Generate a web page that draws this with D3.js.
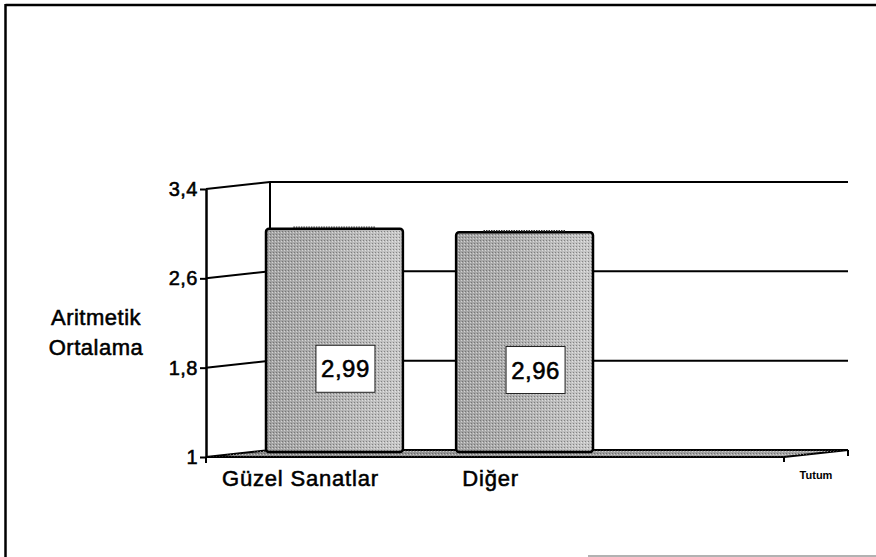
<!DOCTYPE html>
<html><head><meta charset="utf-8">
<script src="https://cdn.jsdelivr.net/npm/d3@7"></script>
<style>
html,body{margin:0;padding:0;background:#fff;}
svg{display:block;font-family:"Liberation Sans",Arial,Helvetica,sans-serif;}
.t{stroke:#000;stroke-width:0.55px;paint-order:stroke;}
</style></head>
<body>
<svg id="chart" width="876" height="557"></svg>
<script>
const categories = ["Güzel Sanatlar", "Diğer"];
const values = [2.99, 2.96];
const yTicks = [1, 1.8, 2.6, 3.4];
const yTickLabels = ["1", "1,8", "2,6", "3,4"];
const yTitle = ["Aritmetik", "Ortalama"];
const seriesName = "Tutum";

const svg = d3.select("#chart");
const W = 876, H = 557;

// depth offset of the 3D back wall
const DX = 64, DY = -7;
const frontLeft = 206, frontRight = 784;

const y = d3.scaleLinear().domain([1, 3.4]).range([457, 189]);
const x = d3.scaleBand().domain(categories).range([266, 593]).paddingInner(0.28).paddingOuter(0);

const defs = svg.append("defs");
const grad = defs.append("linearGradient").attr("id", "barGrad").attr("x1", 0).attr("x2", 1).attr("y1", 0).attr("y2", 0);
grad.append("stop").attr("offset", "0%").attr("stop-color", "#a2a2a2");
grad.append("stop").attr("offset", "45%").attr("stop-color", "#b0b0b0");
grad.append("stop").attr("offset", "100%").attr("stop-color", "#c8c8c8");
const fgrad = defs.append("linearGradient").attr("id", "floorGrad").attr("x1", 0).attr("x2", 1).attr("y1", 0).attr("y2", 0);
fgrad.append("stop").attr("offset", "0%").attr("stop-color", "#8a8a8a");
fgrad.append("stop").attr("offset", "100%").attr("stop-color", "#a8a8a8");
const pat = defs.append("pattern").attr("id", "dots").attr("width", 3).attr("height", 3).attr("patternUnits", "userSpaceOnUse");
pat.append("rect").attr("x", 0).attr("y", 0).attr("width", 1).attr("height", 1).attr("fill", "#444").attr("opacity", 0.5);
pat.append("rect").attr("x", 2).attr("y", 1).attr("width", 1).attr("height", 1).attr("fill", "#fff").attr("opacity", 0.5);

// outer frame
svg.append("line").attr("x1", 5.5).attr("y1", 5).attr("x2", W).attr("y2", 5).attr("stroke", "#000").attr("stroke-width", 2.5);
svg.append("line").attr("x1", 5.5).attr("y1", 4).attr("x2", 5.5).attr("y2", H).attr("stroke", "#000").attr("stroke-width", 2.5);
svg.append("line").attr("x1", 588).attr("y1", 556).attr("x2", W).attr("y2", 556).attr("stroke", "#999").attr("stroke-width", 1.5);

// gridlines (front wedge + back horizontal), skipping the floor value
const grid = svg.append("g").attr("stroke", "#000").attr("stroke-width", 2).attr("fill", "none");
yTicks.filter(t => t > 1).forEach(t => {
  grid.append("path").attr("d",
    `M${frontLeft},${y(t)}L${frontLeft + DX},${y(t) + DY}L${frontRight + DX},${y(t) + DY}`);
});
// back wall vertical
grid.append("line").attr("x1", frontLeft + DX).attr("x2", frontLeft + DX)
  .attr("y1", y(3.4) + DY).attr("y2", y(1) + DY);

// floor slab
const floorD = `M${frontLeft},${y(1)}L${frontLeft + DX},${y(1) + DY}L${frontRight + DX},${y(1) + DY}L${frontRight},${y(1)}Z`;
svg.append("path").attr("d", floorD).attr("fill", "url(#floorGrad)").attr("stroke", "#000").attr("stroke-width", 2);
svg.append("path").attr("d", floorD).attr("fill", "url(#dots)");
svg.append("line").attr("x1", frontRight).attr("x2", frontRight).attr("y1", y(1)).attr("y2", y(1) + 5).attr("stroke", "#000").attr("stroke-width", 2);
svg.append("line").attr("x1", frontRight + DX).attr("x2", frontRight + DX).attr("y1", y(1) + DY).attr("y2", y(1) + DY + 6).attr("stroke", "#000").attr("stroke-width", 2);

// bars (sit near back plane)
const BDY = -6;
const bars = svg.append("g");
categories.forEach((c, i) => {
  const v = values[i];
  const x0 = x(c), bw = x.bandwidth();
  const yt = y(v) + BDY, yb = y(1) + BDY + 1;
  bars.append("rect").attr("x", x0).attr("y", yt).attr("width", bw).attr("height", yb - yt)
    .attr("rx", 3).attr("fill", "url(#barGrad)");
  bars.append("rect").attr("x", x0).attr("y", yt).attr("width", bw).attr("height", yb - yt)
    .attr("rx", 3).attr("fill", "url(#dots)").attr("stroke", "#000").attr("stroke-width", 2.5);
  bars.append("line").attr("x1", x0 + bw * 0.2).attr("x2", x0 + bw * 0.8)
    .attr("y1", yt - 1.5).attr("y2", yt - 1.5).attr("stroke", "#333").attr("stroke-width", 1.5)
    .attr("stroke-dasharray", "1.5,1");
});

// value labels
const fmt = v => d3.format(".2f")(v).replace(".", ",");
categories.forEach((c, i) => {
  const v = values[i];
  const cx = x(c) + x.bandwidth() / 2 + 11;
  const top = y(v) + BDY, bot = y(1) + BDY;
  const cy = top + (bot - top) * 0.63;
  const g = svg.append("g");
  g.append("rect").attr("x", cx - 29.5).attr("y", cy - 23.5).attr("width", 59).attr("height", 47)
    .attr("fill", "#fff").attr("stroke", "#222").attr("stroke-width", 1);
  g.append("text").attr("class", "t").attr("x", cx).attr("y", cy).attr("text-anchor", "middle").attr("dominant-baseline", "central")
    .attr("font-size", 24).attr("letter-spacing", 0.5).attr("fill", "#000").text(fmt(v));
});

// front y axis
const axis = d3.axisLeft(y).tickValues(yTicks).tickFormat((d, i) => yTickLabels[i]).tickSize(6).tickSizeOuter(0).tickPadding(2);
const ax = svg.append("g").attr("transform", `translate(${frontLeft},0)`).call(axis);
ax.select(".domain").attr("stroke", "#000").attr("stroke-width", 2.5);
ax.selectAll(".tick line").attr("stroke", "#000").attr("stroke-width", 2);
ax.selectAll(".tick text").attr("class", "t").attr("font-size", 20).attr("letter-spacing", 0.5).attr("fill", "#000")
  .attr("font-family", "Liberation Sans, Arial, sans-serif");
svg.append("line").attr("x1", frontLeft).attr("x2", frontLeft).attr("y1", y(1)).attr("y2", y(1) + 6).attr("stroke", "#000").attr("stroke-width", 2);

// y axis title
const tt = svg.append("text").attr("class", "t").attr("text-anchor", "middle").attr("font-size", 22).attr("letter-spacing", 0.5).attr("fill", "#000");
yTitle.forEach((s, i) => {
  tt.append("tspan").attr("x", 96).attr("y", 325 + i * 30).text(s);
});

// category labels (front plane)
categories.forEach(c => {
  svg.append("text").attr("class", "t").attr("x", x(c) + x.bandwidth() / 2 - 34).attr("y", 486)
    .attr("text-anchor", "middle").attr("font-size", 22).attr("letter-spacing", 0.8).attr("fill", "#000").text(c);
});

// series (depth) axis label
svg.append("text").attr("x", 816).attr("y", 479).attr("text-anchor", "middle")
  .attr("font-size", 11).attr("font-weight", "bold").attr("fill", "#000").text(seriesName);
</script>
</body></html>
